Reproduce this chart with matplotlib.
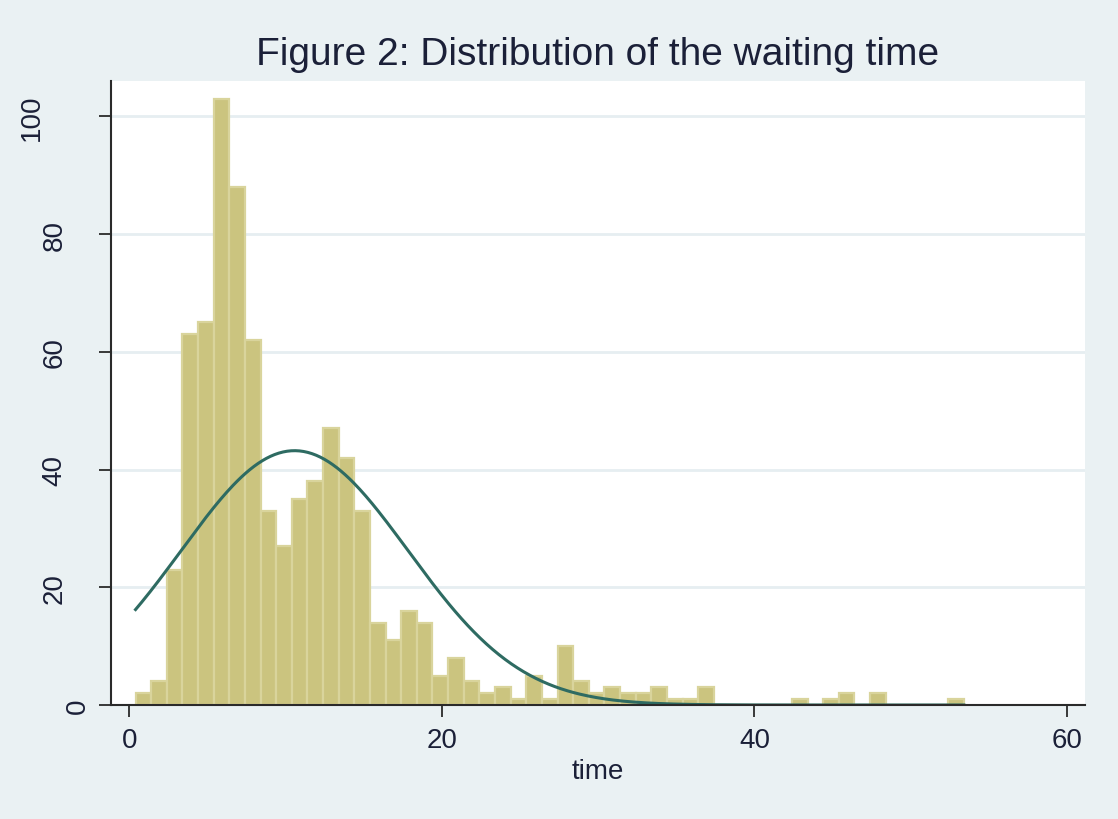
import numpy as np
import matplotlib
matplotlib.use("Agg")
from matplotlib import pyplot as plt
from matplotlib import transforms

# histogram of waiting time (frequency), bins of width 1 starting at 0.4
bin_start = 0.4
bin_width = 1.0
counts = [2, 4, 23, 63, 65, 103, 88, 62, 33, 27,
          35, 38, 47, 42, 33, 14, 11, 16, 14, 5,
          8, 4, 2, 3, 1, 5, 1, 10, 4, 2,
          3, 2, 2, 3, 1, 1, 3, 0, 0, 0,
          0, 0, 1, 0, 1, 2, 0, 2, 0, 0,
          0, 0, 1]
x_ticks = [0, 20, 40, 60]
y_ticks = [0, 20, 40, 60, 80, 100]
title = "Figure 2: Distribution of the waiting time"
x_label = "time"

bg = "#EAF1F3"
bar_fill = "#CBC47F"
bar_edge = "#D9D49C"
curve_col = "#2E6B62"
txt_col = "#1B2038"

plt.rcParams["font.family"] = ["Liberation Sans", "DejaVu Sans"]

fig = plt.figure(figsize=(11.18, 8.2), dpi=100, facecolor=bg)
ax = fig.add_axes([111 / 1118, 1 - 706 / 820, (1085 - 111) / 1118, (706 - 82) / 820])
ax.set_facecolor("white")

counts = np.array(counts)
lefts = bin_start + bin_width * np.arange(len(counts))
ax.bar(lefts, counts, width=bin_width, align="edge", color=bar_fill,
       edgecolor=bar_edge, linewidth=1.6, zorder=2)

# normal density scaled to frequencies
centers = lefts + bin_width / 2
n = counts.sum()
mu = (counts * centers).sum() / n
sd = np.sqrt((counts * (centers - mu) ** 2).sum() / n)
xs = np.linspace(lefts[0], lefts[-1] + bin_width, 400)
ys = n * bin_width / (sd * np.sqrt(2 * np.pi)) * np.exp(-0.5 * ((xs - mu) / sd) ** 2)
ax.plot(xs, ys, color=curve_col, linewidth=2.2, zorder=3)

ax.set_xlim(-1.17, 61.15)
ax.set_ylim(0, 106.0)

for v in y_ticks[1:]:
    ax.axhline(v, color="#E6EEF1", linewidth=2, zorder=1)

for s in ["top", "right"]:
    ax.spines[s].set_visible(False)
for s in ["left", "bottom"]:
    ax.spines[s].set_color("#2a2a2a")
    ax.spines[s].set_linewidth(1.5)
    ax.spines[s].set_zorder(4)

ax.set_xticks(x_ticks)
ax.set_xticklabels([str(v) for v in x_ticks])
ax.tick_params(axis="x", length=8.5, width=1.3, color="#2a2a2a", pad=7,
               labelsize=20, labelcolor=txt_col)
ax.set_yticks(y_ticks)
ax.set_yticklabels([])
ax.tick_params(axis="y", length=8.5, width=1.3, color="#2a2a2a")

# rotated y labels, placed like the original rendering
trans = transforms.blended_transform_factory(fig.transFigure, ax.transData)
for v in y_ticks:
    s = str(v)
    xc = 77.5 - (len(s) - 1) * 23
    ax.text(xc / 1118, v, s, transform=trans, rotation=90, ha="center",
            va="center", fontsize=20, color=txt_col, clip_on=False)

ax.set_xlabel(x_label, fontsize=20, color=txt_col, labelpad=4)
fig.text(598 / 1118, 1 - 55 / 820, title, ha="center", va="center",
         fontsize=28, color=txt_col)

fig.savefig("out.png", dpi=100, facecolor=bg)
